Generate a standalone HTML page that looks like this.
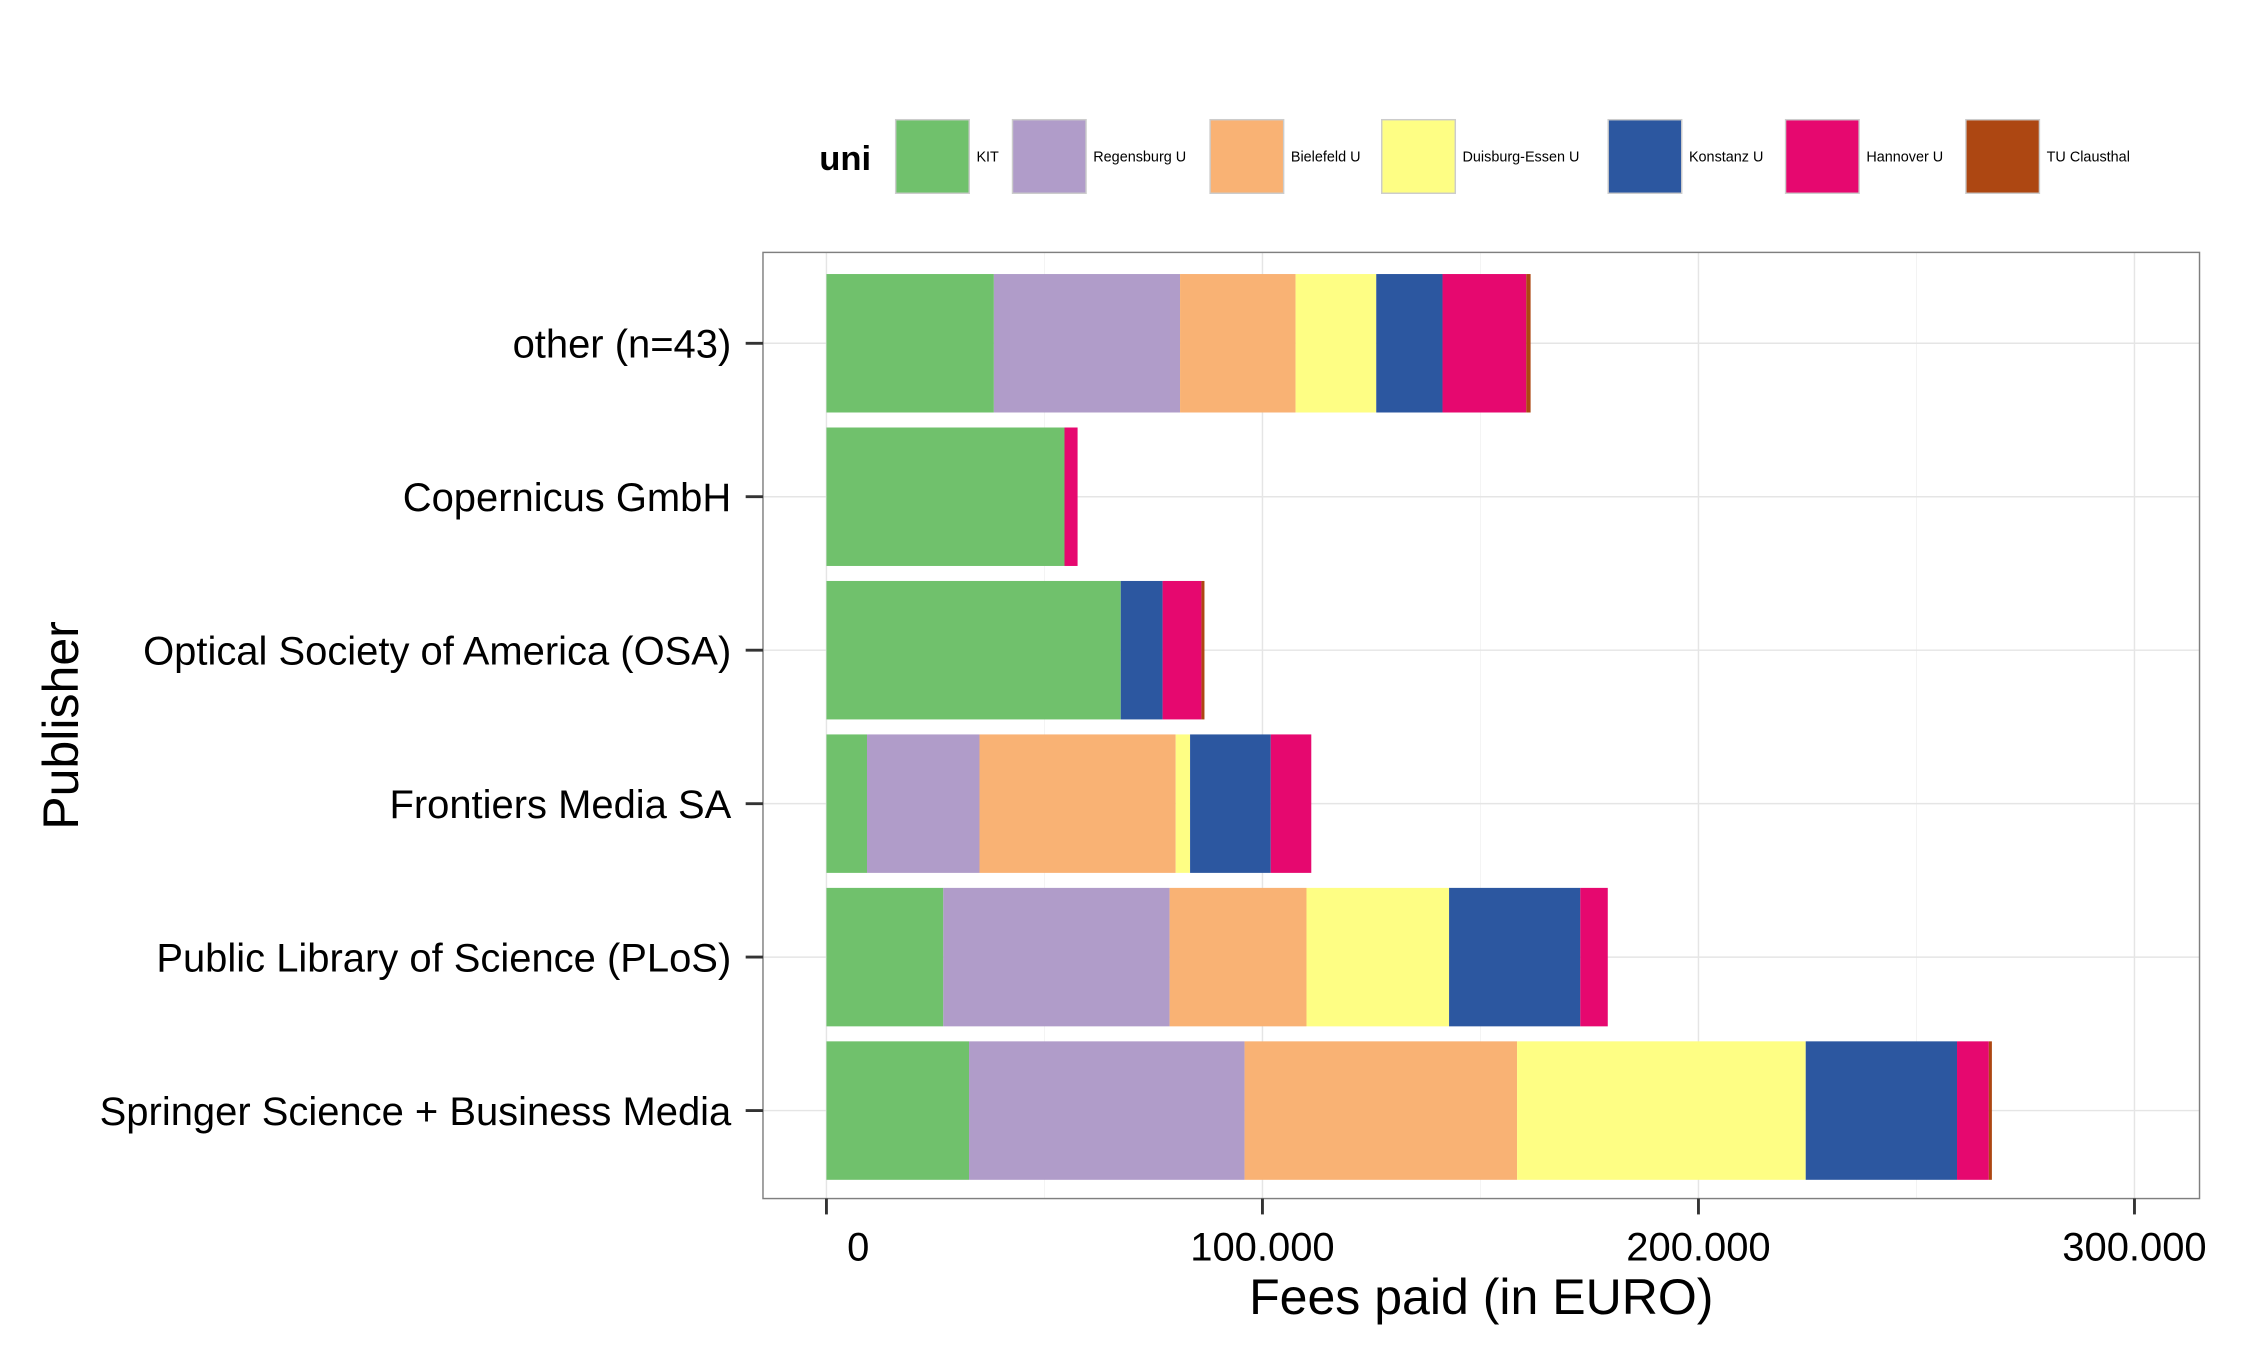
<!DOCTYPE html>
<html><head><meta charset="utf-8"><style>
html,body{margin:0;padding:0;background:#fff}
svg{display:block;font-family:"Liberation Sans",Arial,sans-serif}
</style></head><body>
<svg id="chart" width="2250" height="1350" viewBox="0 0 1560 936" xmlns="http://www.w3.org/2000/svg">
<rect x="0" y="0" width="1560" height="936" fill="#fff"/>
<g id="grid"></g>
<g id="bars"></g>
<rect x="529" y="175" width="996" height="656" fill="none" stroke="#7f7f7f" stroke-width="1"/>
<g id="axes"></g>
<text x="1027" y="911" font-size="34.7" text-anchor="middle">Fees paid (in EURO)</text>
<text transform="translate(54,503) rotate(-90)" font-size="34.7" text-anchor="middle">Publisher</text>
<g id="legend"><text x="568" y="118" font-size="24" font-weight="bold">uni</text></g>
</svg>
<script>
const categories = ["other (n=43)","Copernicus GmbH","Optical Society of America (OSA)","Frontiers Media SA","Public Library of Science (PLoS)","Springer Science + Business Media"];
const unis = ["KIT","Regensburg U","Bielefeld U","Duisburg-Essen U","Konstanz U","Hannover U","TU Clausthal"];
const colors = ["#70c16c","#b09cc9","#f9b274","#fefe84","#2c57a0","#e6086f","#ad4712"];
const kit        = [38400,54600,67500,9300,26800,32700];
const regensburg = [42700,0,0,25800,51900,63200];
const bielefeld  = [26500,0,0,45000,31400,62500];
const duisburg   = [18500,0,0,3300,32700,66200];
const konstanz   = [15200,0,9600,18500,30100,34700];
const hannover   = [19200,3000,8900,9300,6300,7300];
const clausthal  = [1000,0,700,0,0,700];
const series = [kit,regensburg,bielefeld,duisburg,konstanz,hannover,clausthal];
const xTicks = [0,100000,200000,300000];
const xTickLabels = ["0","100.000","200.000","300.000"];

const NS="http://www.w3.org/2000/svg";
const x = v => 573 + v*302.3/100000;
const yc = i => 238 + i*106.4;
function mk(tag,attrs,parent){const e=document.createElementNS(NS,tag);for(const k in attrs)e.setAttribute(k,attrs[k]);parent.appendChild(e);return e;}
const grid=document.getElementById('grid'),bars=document.getElementById('bars'),axes=document.getElementById('axes'),legend=document.getElementById('legend');
for(let v=-50000; v<=350000; v+=100000){const px=x(v); if(px>529&&px<1525){const l=mk('line',{x1:px,x2:px,y1:175,y2:831,stroke:'#f2f2f2','stroke-width':0.6},grid);

}}
xTicks.forEach((v,i)=>{const px=x(v);
const g=mk('line',{x1:px,x2:px,y1:175,y2:831,stroke:'#e5e5e5','stroke-width':1},grid);


const t=mk('line',{x1:px,x2:px,y1:831,y2:842,stroke:'#333','stroke-width':2},axes);


const tx=mk('text',{x:px+(i==0?22:0),y:874,'font-size':27.7,'text-anchor':'middle',fill:'#000'},axes);tx.textContent=xTickLabels[i];

});
categories.forEach((c,i)=>{const y=yc(i);
const g=mk('line',{x1:529,x2:1525,y1:y,y2:y,stroke:'#e5e5e5','stroke-width':1},grid);


const t=mk('line',{x1:517,x2:529,y1:y,y2:y,stroke:'#333','stroke-width':2},axes);


const tx=mk('text',{x:507,y:y+10,'font-size':27.7,'text-anchor':'end'},axes);tx.textContent=c;


let cum=0;
series.forEach((s,j)=>{const v=s[i]; if(v>0){const r=mk('rect',{x:x(cum),y:y-48,width:x(cum+v)-x(cum),height:96,fill:colors[j]},bars);

}
cum+=v;});});
const lx=[621,702,839,958,1115,1238,1363];
unis.forEach((u,j)=>{const r=mk('rect',{x:lx[j],y:83,width:51,height:51,fill:colors[j],stroke:'#ccc','stroke-width':1},legend);


const t=mk('text',{x:lx[j]+56,y:112,'font-size':10},legend);t.textContent=u;

});
</script>
</body></html>
